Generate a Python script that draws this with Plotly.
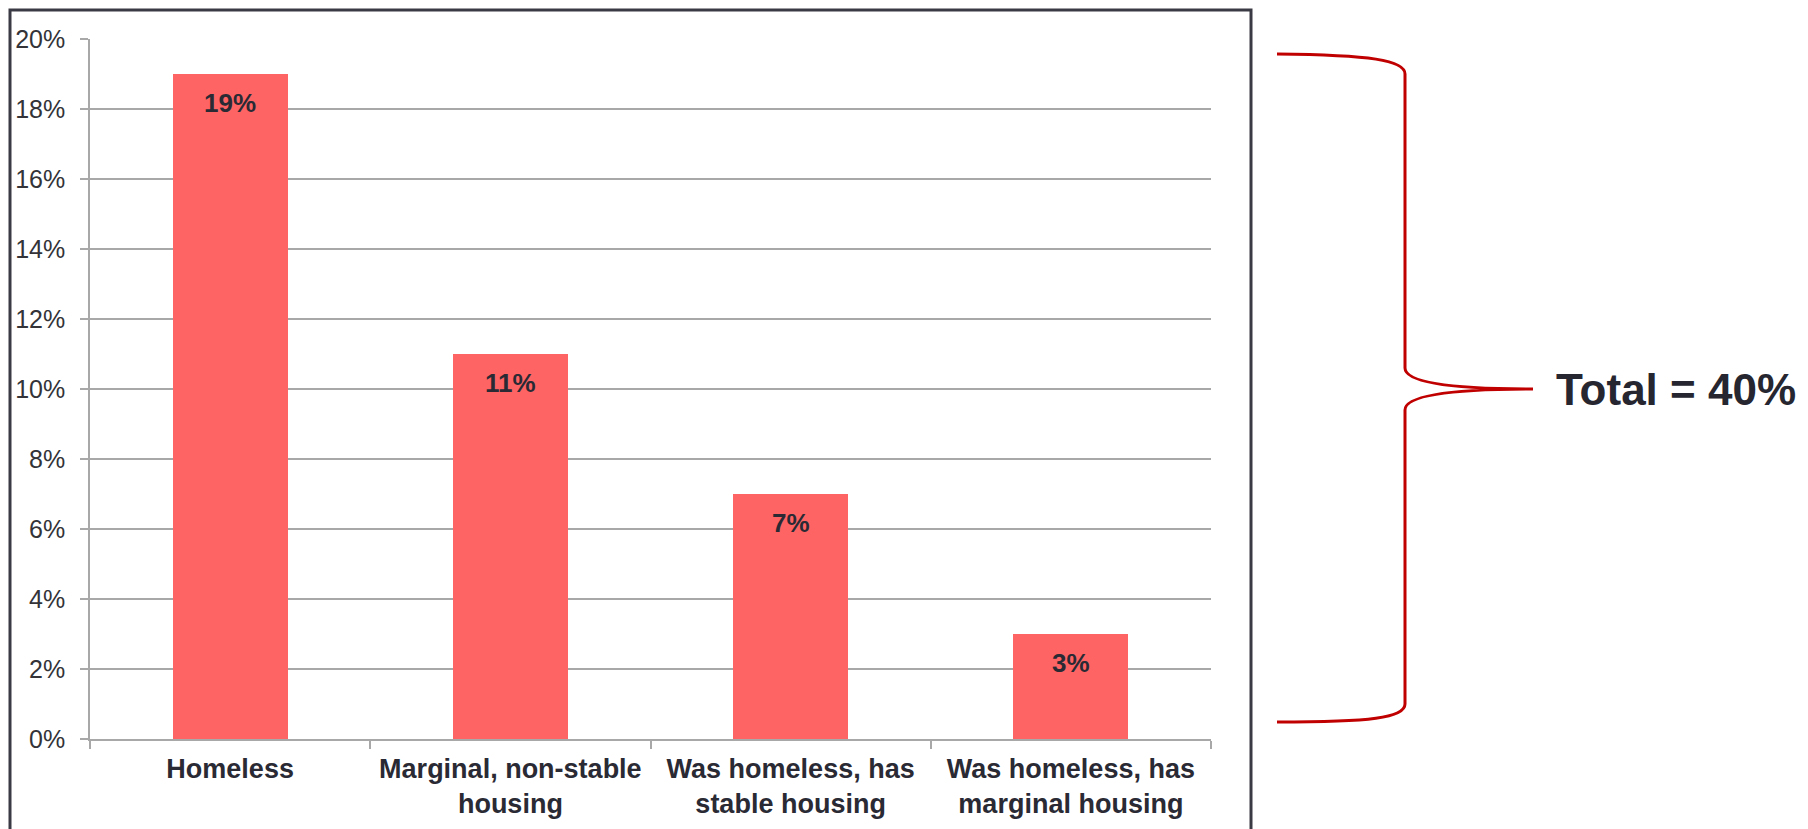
import plotly.graph_objects as go

# Share of respondents by housing situation (percent)
categories = [
    "Homeless",
    "Marginal, non-stable<br>housing",
    "Was homeless, has<br>stable housing",
    "Was homeless, has<br>marginal housing",
]
values = [19, 11, 7, 3]
y_ticks = [0, 2, 4, 6, 8, 10, 12, 14, 16, 18, 20]
total_label = "Total = 40%"

W, H = 1808, 829
L, R, T, B = 90, 1211, 39, 739  # plot area in pixels

FONT = "Liberation Sans, Arial, sans-serif"
TEXT = "#2a2a34"
GRID = "#a8a8a8"
BAR = "#ff6464"
BRACE = "#c00000"


def px(x):
    return (x - L) / (R - L)


def py(y):
    return (B - y) / (B - T)


fig = go.Figure(
    go.Bar(
        x=categories,
        y=values,
        width=0.41,
        marker=dict(color=BAR, line=dict(width=0)),
        hoverinfo="skip",
    )
)

# value labels just inside the top of each bar
for c, v in zip(categories, values):
    fig.add_annotation(
        x=c, y=v, xref="x", yref="y",
        text=f"<b>{v}%</b>", showarrow=False,
        yanchor="middle", yshift=-29,
        font=dict(family=FONT, size=26, color=TEXT),
    )

# outer frame around the chart
fig.add_shape(
    type="rect", xref="paper", yref="paper",
    x0=px(10), x1=px(1251), y0=py(10), y1=py(860),
    line=dict(color="#3a3a44", width=3), layer="above",
)


def P(x, y):
    return f"{px(x):.5f},{py(y):.5f}"


# curly brace grouping all bars
path = (
    f"M {P(1277, 54)} "
    f"C {P(1370, 55)} {P(1405, 60)} {P(1405, 74)} "
    f"L {P(1405, 368)} "
    f"C {P(1405, 384)} {P(1460, 389)} {P(1533, 389)} "
    f"C {P(1460, 389)} {P(1405, 394)} {P(1405, 410)} "
    f"L {P(1405, 704)} "
    f"C {P(1405, 718)} {P(1370, 722)} {P(1277, 722)}"
)
fig.add_shape(
    type="path", xref="paper", yref="paper", path=path,
    line=dict(color=BRACE, width=3),
)

fig.add_annotation(
    x=px(1554), y=py(389), xref="paper", yref="paper",
    text=f"<b>{total_label}</b>", showarrow=False,
    xanchor="left", yanchor="middle",
    font=dict(family=FONT, size=44, color="#262630"),
)

fig.update_layout(
    width=W, height=H,
    margin=dict(l=L, r=W - R, t=T, b=H - B, pad=0),
    paper_bgcolor="white", plot_bgcolor="white",
    showlegend=False,
    bargap=0,
    font=dict(family=FONT, color=TEXT),
)

fig.update_xaxes(
    type="category", range=[-0.5, 3.5],
    automargin=False, tickangle=0,
    showline=True, linecolor=GRID, linewidth=1.5,
    ticks="outside", tickson="boundaries", ticklen=8,
    tickcolor=GRID, tickwidth=1.5,
    showgrid=False, zeroline=False,
    tickmode="array", tickvals=categories,
    ticktext=[f"<b>{c}</b>" for c in categories],
    tickfont=dict(family=FONT, size=27, color=TEXT),
    ticklabelstandoff=5,
)

fig.update_yaxes(
    range=[0, 20], automargin=False,
    tickmode="array", tickvals=y_ticks,
    ticktext=[f"{v}%" for v in y_ticks],
    showline=True, linecolor=GRID, linewidth=1.5,
    ticks="outside", ticklen=8, tickcolor=GRID, tickwidth=1.5,
    showgrid=True, gridcolor=GRID, gridwidth=1.5,
    zeroline=False,
    tickfont=dict(family=FONT, size=25, color="#333338"),
    ticklabelstandoff=10,
)

fig.write_html("out.html")
